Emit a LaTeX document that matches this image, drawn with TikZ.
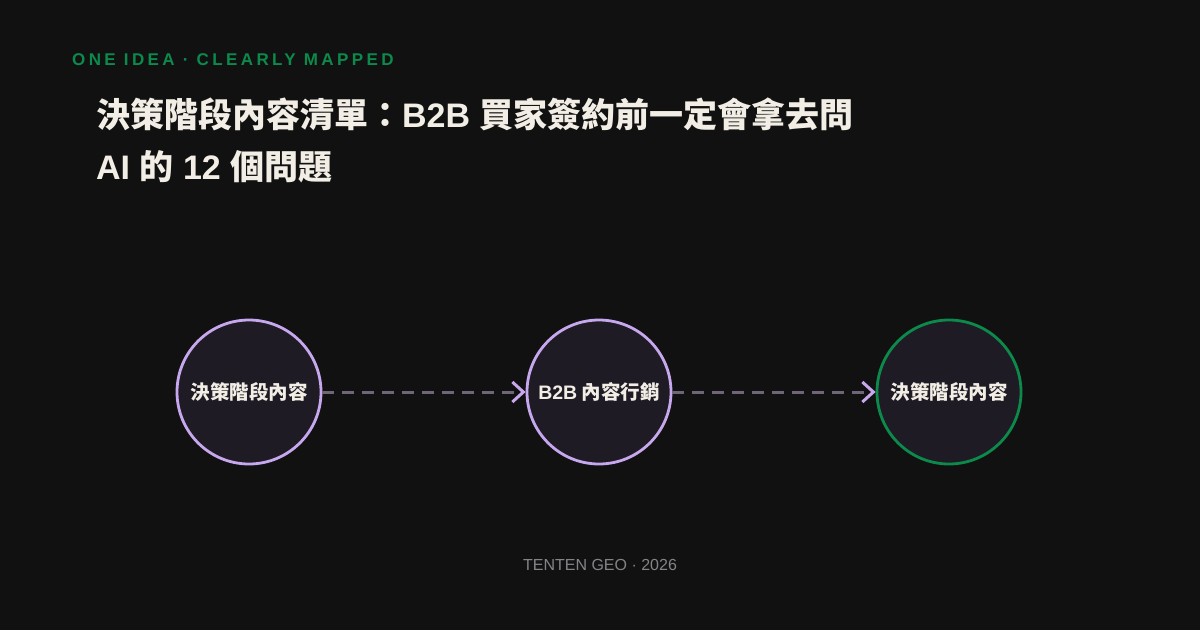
\documentclass[tikz,border=0pt]{standalone}
\usepackage{fontspec}
\setmainfont{Liberation Sans}
\newfontfamily\cjk{Noto Sans CJK TC}
\newfontfamily\tagfont{Liberation Sans}[LetterSpace=20]
\usetikzlibrary{arrows.meta}
\definecolor{bg}{HTML}{111111}
\definecolor{nodefill}{HTML}{1E1B24}
\definecolor{lav}{HTML}{C7A8EE}
\definecolor{grn}{HTML}{0B8A4C}
\definecolor{dashc}{HTML}{6F6578}
\definecolor{txt}{HTML}{F2EEE6}
\definecolor{foot}{HTML}{85838A}
\tikzset{
  stage/.style={circle, minimum size=144pt, inner sep=0pt, fill=nodefill, draw=lav, line width=2.8pt, text=txt, font=\cjk\bfseries\fontsize{19.5}{22}\selectfont},
  stagegreen/.style={stage, draw=grn},
  flow/.style={draw=dashc, line width=3pt, dash pattern=on 12pt off 8pt, -{Straight Barb[length=11pt,width=20pt,line width=3pt,color=lav]}}
}
\begin{document}
\begin{tikzpicture}[x=1pt,y=-1pt]
\fill[bg] (0,0) rectangle (1200,630);
\useasboundingbox (0,0) rectangle (1200,630);
\node[anchor=west, text=grn, font=\tagfont\bfseries\fontsize{17}{18}\selectfont, inner sep=0pt] (tag) at (72,60) {ONE IDEA · CLEARLY MAPPED};
\node[anchor=west, text=txt, font=\bfseries\fontsize{34}{52}\selectfont, inner sep=0pt, align=left] (title) at (96,140) {{\cjk 決策階段內容清單：}B2B {\cjk 買家簽約前一定會拿去問}\\AI {\cjk 的} 12 {\cjk 個問題}};
\node[stage] (a) at (249,392) {決策階段內容};
\node[stage] (b) at (599,392) {{\rmfamily\bfseries B2B} 內容行銷};
\node[stagegreen] (c) at (949,392) {決策階段內容};
\draw[flow] (a) -- (b);
\draw[flow] (b) -- (c);
\node[text=foot, font=\fontsize{16}{18}\selectfont, inner sep=0pt] (footer) at (600,565) {TENTEN GEO · 2026};
\end{tikzpicture}
\end{document}
